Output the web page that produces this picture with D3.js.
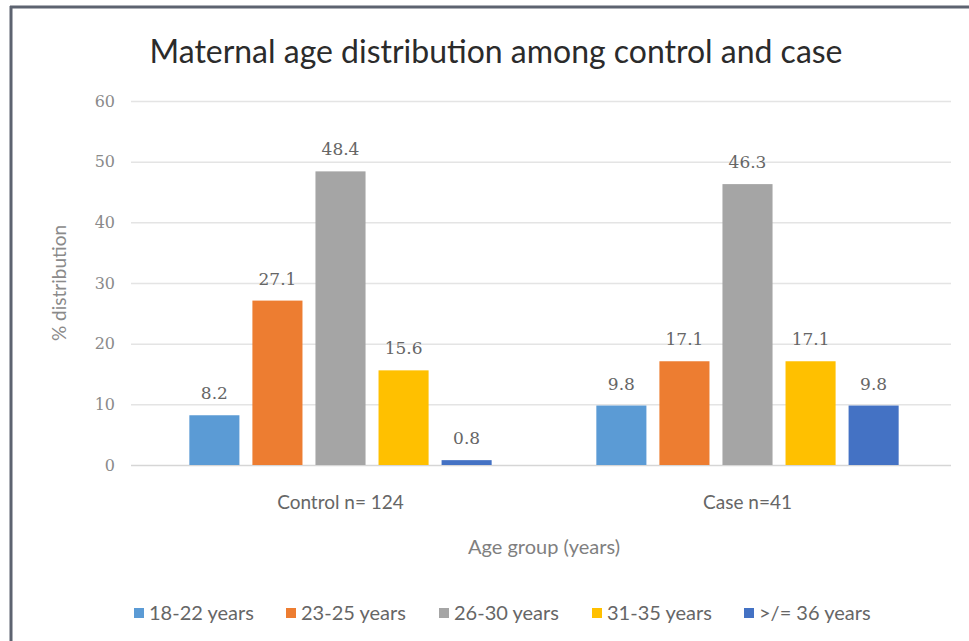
<!DOCTYPE html>
<html>
<head>
<meta charset="utf-8">
<script src="https://cdn.jsdelivr.net/npm/d3@7"></script>
<style>
  html, body { margin: 0; padding: 0; background: #fff; }
  svg { display: block; }
</style>
</head>
<body>
<svg id="chart" width="969" height="641"></svg>
<script>
// Maternal age distribution (% of each group)
const groups = ["Control n= 124", "Case n=41"];
const ageBands = ["18-22 years", "23-25 years", "26-30 years", "31-35 years", ">/= 36 years"];
const controlValues = [8.2, 27.1, 48.4, 15.6, 0.8];
const caseValues = [9.8, 17.1, 46.3, 17.1, 9.8];
const bandColors = ["#5B9BD5", "#ED7D31", "#A5A5A5", "#FFC000", "#4472C4"];
const yTicks = [0, 10, 20, 30, 40, 50, 60];

const seriesByGroup = [controlValues, caseValues];

const svg = d3.select("#chart");
const W = 969, H = 641;
const plot = { left: 137, right: 951, top: 101, bottom: 465 };
const SANS = "Lato, 'Open Sans', sans-serif";
const SERIF = "'DejaVu Serif', 'Liberation Serif', serif";

// frame
svg.append("rect").attr("x", 0).attr("y", 0).attr("width", W).attr("height", H).attr("fill", "#fff");
svg.append("line").attr("x1", 10).attr("x2", W).attr("y1", 7).attr("y2", 7)
  .attr("stroke", "#5d6370").attr("stroke-width", 3);
svg.append("line").attr("x1", 11).attr("x2", 11).attr("y1", 6).attr("y2", H)
  .attr("stroke", "#5d6370").attr("stroke-width", 3);

const x0 = d3.scaleBand().domain(groups).range([plot.left, plot.right]);
const x1 = d3.scaleBand().domain(ageBands).range([0, x0.bandwidth()]).paddingInner(0.206).paddingOuter(0.83);
const y = d3.scaleLinear().domain([0, 60]).range([plot.bottom, plot.top]);
const color = d3.scaleOrdinal().domain(ageBands).range(bandColors);

// gridlines and value axis
const yAxis = d3.axisLeft(y).tickValues(yTicks).tickSize(-(plot.right - plot.left + 6)).tickPadding(16);
const gy = svg.append("g").attr("transform", `translate(${plot.left - 6},0)`).call(yAxis);
gy.select(".domain").remove();
gy.selectAll(".tick line").attr("stroke", d => d === 0 ? "#d6d6d6" : "#e4e4e4").attr("stroke-width", 1.5);
gy.selectAll(".tick text")
  .attr("font-family", SERIF)
  .attr("font-size", 16).attr("fill", "#8a8a8a");

// category labels
const xAxis = d3.axisBottom(x0).tickSize(0).tickPadding(31);
const gx = svg.append("g").attr("transform", `translate(0,${plot.bottom})`).call(xAxis);
gx.select(".domain").remove();
gx.selectAll(".tick text")
  .attr("font-family", SANS)
  .attr("font-size", 19).attr("fill", "#666");

// bars with value labels
const gGroups = svg.append("g").selectAll("g").data(groups).join("g")
  .attr("transform", d => `translate(${x0(d)},0)`);

gGroups.each(function(g, gi) {
  const vals = seriesByGroup[gi].map((v, i) => ({ band: ageBands[i], value: v }));
  const sel = d3.select(this);
  sel.selectAll("rect").data(vals).join("rect")
    .attr("x", d => x1(d.band))
    .attr("y", d => y(d.value))
    .attr("width", x1.bandwidth())
    .attr("height", d => y(0) - y(d.value))
    .attr("fill", d => color(d.band));
  sel.selectAll("text").data(vals).join("text")
    .attr("x", d => x1(d.band) + x1.bandwidth() / 2)
    .attr("y", d => y(d.value) - 16)
    .attr("text-anchor", "middle")
    .attr("font-family", SERIF)
    .attr("font-size", 17).attr("fill", "#666")
    .text(d => d.value.toFixed(1));
});

// title
svg.append("text").attr("x", 496).attr("y", 63).attr("text-anchor", "middle")
  .attr("font-family", SANS).attr("font-size", 32).attr("fill", "#2b2b2b")
  .attr("textLength", 693).attr("lengthAdjust", "spacingAndGlyphs")
  .text("Maternal age distribution among control and case");

// axis titles
svg.append("text").attr("x", (plot.left + plot.right) / 2).attr("y", 554).attr("text-anchor", "middle")
  .attr("font-family", SANS).attr("font-size", 20).attr("fill", "#7f7f7f")
  .text("Age group (years)");
svg.append("text").attr("transform", `translate(66,${(plot.top + plot.bottom) / 2}) rotate(-90)`)
  .attr("text-anchor", "middle")
  .attr("font-family", SANS).attr("font-size", 19).attr("fill", "#8a8a8a")
  .text("% distribution");

// legend
const legendX = [134, 286, 439, 592, 744];
const lg = svg.append("g").selectAll("g").data(ageBands).join("g")
  .attr("transform", (d, i) => `translate(${legendX[i]},613)`);
lg.append("rect").attr("x", 0).attr("y", -5).attr("width", 10).attr("height", 10).attr("fill", d => color(d));
lg.append("text").attr("x", 15).attr("y", 7)
  .attr("font-family", SANS).attr("font-size", 20).attr("fill", "#666")
  .text(d => d);
</script>
</body>
</html>
